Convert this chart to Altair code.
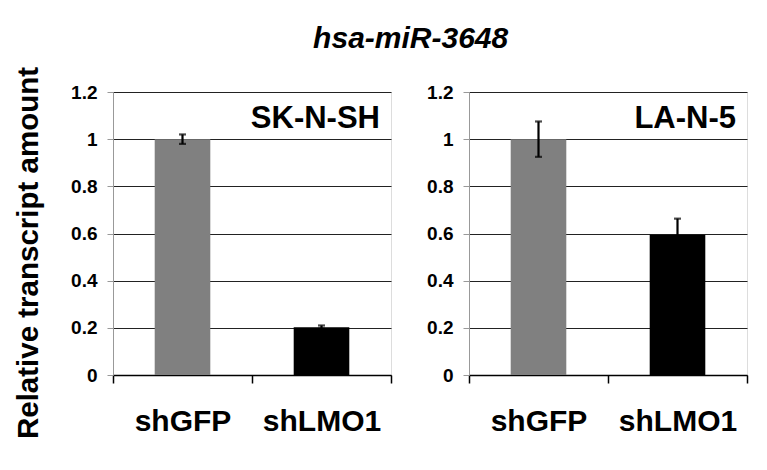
import altair as alt
import pandas as pd

cells = ["SK-N-SH", "SK-N-SH", "LA-N-5", "LA-N-5"]
groups = ["shGFP", "shLMO1", "shGFP", "shLMO1"]
values = [1.0, 0.203, 1.0, 0.595]
errors = [0.02, 0.007, 0.075, 0.068]
y_ticks = [0, 0.2, 0.4, 0.6, 0.8, 1.0, 1.2]
group_order = ["shGFP", "shLMO1"]
group_colors = ["#808080", "#000000"]
panel_order = ["SK-N-SH", "LA-N-5"]

df = pd.DataFrame({"cell": cells, "group": groups, "value": values, "err": errors})
df["lo"] = df["value"] - df["err"]
df["hi"] = df["value"] + df["err"]

W, H = 278, 283
FONT = "Liberation Sans"


def panel(cell, first):
    d = df[df["cell"] == cell]
    x = alt.X(
        "group:N",
        sort=group_order,
        scale=alt.Scale(paddingInner=0, paddingOuter=0),
        axis=alt.Axis(
            title=None, labelAngle=0, labelFontSize=30, labelFontWeight="bold",
            labelFont=FONT, labelColor="black", tickBand="extent",
            domainColor="black", domainWidth=1.5, tickColor="black",
            tickWidth=1.5, tickSize=8, labelPadding=23, grid=False,
        ),
    )
    yaxis = alt.Axis(
        values=y_ticks, labelExpr="format(datum.value, '~g')",
        labelFontSize=19, labelFontWeight="bold", labelFont=FONT,
        labelColor="black", domainColor="#999999", tickColor="#999999",
        tickSize=6, labelPadding=10, gridColor="#222222", gridWidth=1.2,
        title="Relative transcript amount" if first else None,
        titleFontSize=29.5, titleFontWeight="bold", titleFont=FONT,
        titleColor="black", titlePadding=27, titleY=H / 2 + 19,
    )
    base = alt.Chart(d)
    bars = base.mark_bar(width=alt.RelativeBandSize(0.4)).encode(
        x=x,
        y=alt.Y("value:Q", scale=alt.Scale(domain=[0, 1.2]), axis=yaxis),
        color=alt.Color("group:N", scale=alt.Scale(domain=group_order, range=group_colors), legend=None),
    )
    rule = base.mark_rule(color="black", strokeWidth=2.2).encode(
        x=alt.X("group:N", sort=group_order), y="lo:Q", y2="hi:Q"
    )
    cap_hi = base.mark_tick(color="black", thickness=2.2, size=7).encode(
        x=alt.X("group:N", sort=group_order), y="hi:Q"
    )
    cap_lo = base.mark_tick(color="black", thickness=2.2, size=7).encode(
        x=alt.X("group:N", sort=group_order), y="lo:Q"
    )
    label = alt.Chart(pd.DataFrame({"t": [cell]})).mark_text(
        align="right", baseline="alphabetic", fontSize=31, fontWeight="bold",
        font=FONT, color="black",
    ).encode(x=alt.value(W - 11), y=alt.value(36), text="t:N")
    return alt.layer(bars, rule, cap_hi, cap_lo, label).properties(width=W, height=H)


chart = alt.hconcat(panel(panel_order[0], True), panel(panel_order[1], False), spacing=33).properties(
    title=alt.TitleParams(
        "hsa-miR-3648", fontSize=30, fontWeight="bold", fontStyle="italic",
        font=FONT, color="black", anchor="middle", dx=30, offset=12,
    ),
    padding={"top": 15, "left": 5, "right": 5, "bottom": 5},
).configure_view(stroke=None).configure(background="white")

chart.save("out.html", embed_options={"renderer": "svg", "actions": False})
